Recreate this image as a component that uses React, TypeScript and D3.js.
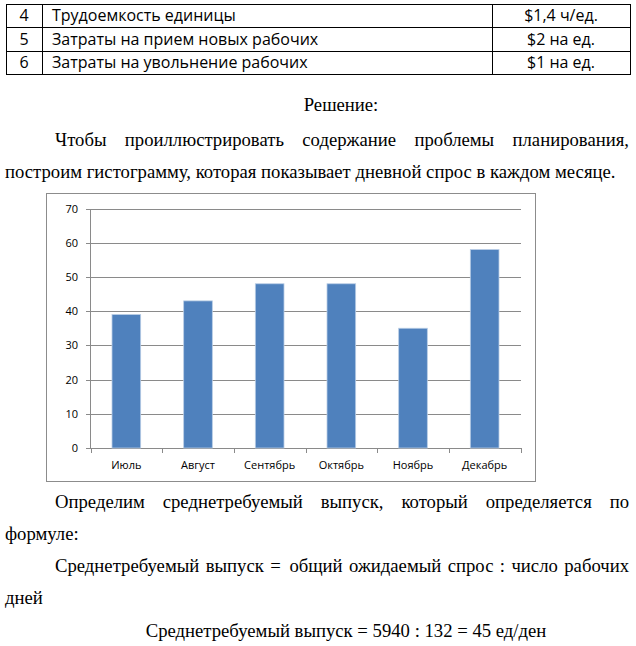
import React from "react";
import * as d3 from "d3";

const rowNums = ["4", "5", "6"];
const rowLabels = ["Трудоемкость единицы", "Затраты на прием новых рабочих", "Затраты на увольнение рабочих"];
const rowValues = ["$1,4 ч/ед.", "$2 на ед.", "$1 на ед."];

const months = ["Июль", "Август", "Сентябрь", "Октябрь", "Ноябрь", "Декабрь"];
const demand = [39, 43, 48, 48, 35, 58];
const yTicks = [0, 10, 20, 30, 40, 50, 60, 70];

const heading = "Решение:";
const para1a = "Чтобы проиллюстрировать содержание проблемы планирования,";
const para1b = "построим гистограмму, которая показывает дневной спрос в каждом месяце.";
const para2a = "Определим среднетребуемый выпуск, который определяется по";
const para2b = "формуле:";
const para3a = "Среднетребуемый выпуск =  общий ожидаемый спрос : число рабочих";
const para3b = "дней";
const formula = "Среднетребуемый выпуск = 5940 : 132 = 45 ед/ден";

const SERIF = "Liberation Serif, Tinos, Times New Roman, DejaVu Serif, serif";
const SERIF_SIZE = 18.7;

let ctx: CanvasRenderingContext2D | null = null;
function measure(t: string, font: string) {
  if (!ctx) ctx = document.createElement("canvas").getContext("2d");
  ctx!.font = font;
  return ctx!.measureText(t).width;
}

function Justified({ text, x0, x1, y }: { text: string; x0: number; x1: number; y: number }) {
  const words = text.split(" ");
  const font = `${SERIF_SIZE}px "Liberation Serif", "DejaVu Serif", serif`;
  const widths = words.map((w) => (w ? measure(w, font) : 0));
  const total = widths.reduce((a, b) => a + b, 0);
  const weights = words.map((w, i) => (i === words.length - 1 ? 0 : w ? 1 : 0.35));
  const wsum = weights.reduce((a, b) => a + b, 0);
  const gap = wsum > 0 ? (x1 - x0 - total) / wsum : 0;
  let x = x0;
  return (
    <g>
      {words.map((w, i) => {
        const el = w ? (
          <text key={i} x={x} y={y} style={{ fontFamily: SERIF, fontSize: SERIF_SIZE }} fill="#000">
            {w}
          </text>
        ) : null;
        x += widths[i] + gap * weights[i];
        return el;
      })}
    </g>
  );
}

function Plain({ text, x, y, anchor = "start" }: { text: string; x: number; y: number; anchor?: string }) {
  return (
    <text x={x} y={y} fill="#000" textAnchor={anchor as any} style={{ whiteSpace: "pre", fontFamily: SERIF, fontSize: SERIF_SIZE }}>
      {text}
    </text>
  );
}

export default function App() {
  // table
  const tLeft = 6, tC1 = 42, tC2 = 492, tRight = 630;
  const rowYs = [4, 27.5, 51, 74.5];
  const SANS = "Open Sans, Noto Sans, sans-serif";

  // chart
  const frame = { x: 46.5, y: 193.5, w: 489, h: 288 };
  const x = d3.scaleBand<string>().domain(months).range([90.5, 520.5]).paddingInner(0.6).paddingOuter(0.3);
  const y = d3.scaleLinear().domain([0, 70]).range([448, 208.5]);
  const step = x.step();
  const boundaries = d3.range(months.length + 1).map((i) => 90.5 + i * step);
  const CH = "Open Sans, Noto Sans, sans-serif";

  const L = 5, R = 629, IND = 55;

  return (
    <svg width={636} height={646} style={{ position: "absolute", left: 0, top: 0, background: "#fff" }}>
      <rect x={0} y={0} width={636} height={646} fill="#fff" />
      {/* table */}
      <g stroke="#000" strokeWidth={1} shapeRendering="crispEdges">
        {rowYs.map((ry, i) => (
          <line key={i} x1={tLeft} x2={tRight} y1={ry} y2={ry} />
        ))}
        {[tLeft, tC1, tC2, tRight].map((cx, i) => (
          <line key={i} x1={cx} x2={cx} y1={rowYs[0]} y2={rowYs[3]} />
        ))}
      </g>
      {rowNums.map((n, i) => {
        const cy = (rowYs[i] + rowYs[i + 1]) / 2 + 5.5;
        return (
          <g key={i} style={{ fontFamily: SANS, fontSize: 16 }} fill="#000">
            <text x={(tLeft + tC1) / 2} y={cy} textAnchor="middle">{n}</text>
            <text x={tC1 + 10} y={cy}>{rowLabels[i]}</text>
            <text x={(tC2 + tRight) / 2} y={cy} textAnchor="middle">{rowValues[i]}</text>
          </g>
        );
      })}

      {/* text */}
      <Plain text={heading} x={341} y={111} anchor="middle" />
      <Justified text={para1a} x0={IND} x1={R} y={146} />
      <Plain text={para1b} x={L} y={178} />

      {/* chart */}
      <rect x={frame.x} y={frame.y} width={frame.w} height={frame.h} fill="#fff" stroke="#8c8c8c" strokeWidth={1} />
      <g shapeRendering="crispEdges">
        {yTicks.map((t) => (
          <line key={t} x1={85.5} x2={520.5} y1={Math.round(y(t)) + 0.5} y2={Math.round(y(t)) + 0.5} stroke="#8a8a8a" strokeWidth={1} />
        ))}
        <line x1={90.5} x2={90.5} y1={y(70)} y2={y(0)} stroke="#8a8a8a" />
        {boundaries.map((b, i) => (
          <line key={i} x1={Math.round(b) + 0.5} x2={Math.round(b) + 0.5} y1={y(0)} y2={y(0) + 5} stroke="#8a8a8a" />
        ))}
      </g>
      {months.map((m, i) => (
        <rect
          key={m}
          x={x(m)!}
          y={y(demand[i])}
          width={x.bandwidth()}
          height={y(0) - y(demand[i])}
          fill="#4f81bd"
          stroke="#b9cde5"
          strokeWidth={0.8}
        />
      ))}
      {yTicks.map((t) => (
        <text key={t} x={78} y={y(t) + 4} textAnchor="end" style={{ fontFamily: CH, fontSize: 11 }} fill="#000">
          {t}
        </text>
      ))}
      {months.map((m) => (
        <text key={m} x={x(m)! + x.bandwidth() / 2} y={469} textAnchor="middle" style={{ fontFamily: CH, fontSize: 11 }} fill="#000">
          {m}
        </text>
      ))}

      {/* text after chart */}
      <Justified text={para2a} x0={IND} x1={R} y={508} />
      <Plain text={para2b} x={L} y={540} />
      <Justified text={para3a} x0={IND} x1={R} y={572} />
      <Plain text={para3b} x={L} y={604} />
      <Plain text={formula} x={346} y={637} anchor="middle" />
    </svg>
  );
}
